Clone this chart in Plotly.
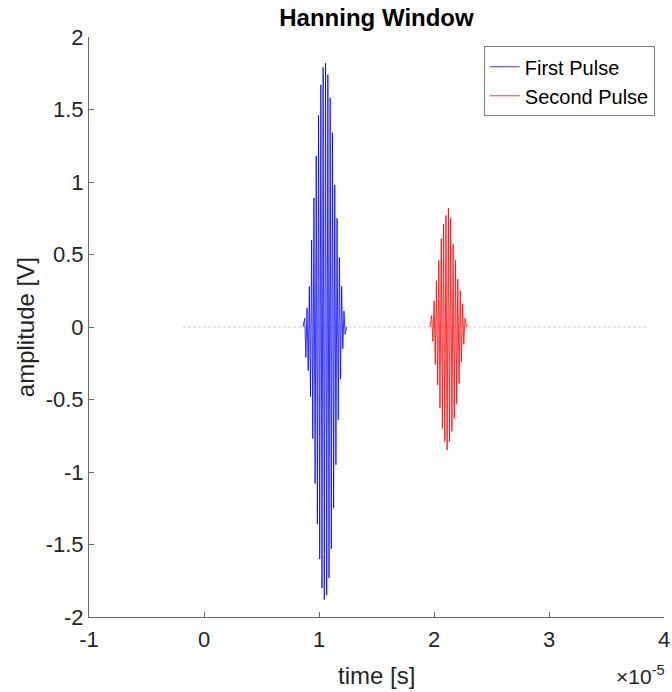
import plotly.graph_objects as go

# ---- data (time in microseconds, amplitude in volts) ----
pulse1_t_us = [8.60, 8.76, 8.86, 8.96, 9.06, 9.16, 9.26, 9.36, 9.46, 9.56, 9.66, 9.76, 9.86,
               9.96, 10.06, 10.16, 10.26, 10.36, 10.46, 10.57, 10.67, 10.77, 10.87, 10.97,
               11.07, 11.17, 11.27, 11.37, 11.47, 11.57, 11.67, 11.77, 11.87, 11.97, 12.07,
               12.17, 12.27, 12.40]
pulse1_v = [0.0, 0.06, -0.21, 0.13, -0.30, 0.28, -0.48, 0.60, -0.77, 0.89, -1.08, 1.18, -1.36,
            1.46, -1.60, 1.67, -1.80, 1.79, -1.88, 1.82, -1.85, 1.74, -1.73, 1.58,
            -1.53, 1.34, -1.25, 0.98, -0.95, 0.75, -0.64, 0.48, -0.36, 0.28, -0.15,
            0.11, -0.05, 0.0]

pulse2_t_us = [19.65, 19.80, 19.90, 20.01, 20.11, 20.21, 20.32, 20.42, 20.52, 20.63, 20.73,
               20.83, 20.94, 21.04, 21.14, 21.25, 21.35, 21.45, 21.56, 21.66, 21.76, 21.87,
               21.97, 22.07, 22.18, 22.28, 22.38, 22.49, 22.59, 22.69, 22.85]
pulse2_v = [0.0, 0.08, -0.10, 0.18, -0.26, 0.32, -0.40, 0.46, -0.56, 0.61, -0.70,
            0.71, -0.79, 0.77, -0.85, 0.82, -0.79, 0.75, -0.72, 0.57, -0.63, 0.46,
            -0.53, 0.33, -0.39, 0.25, -0.24, 0.16, -0.12, 0.06, 0.0]

baseline_t_us = [-1.83, 38.43]
baseline_v = [0.0, 0.0]

x_tick_vals = [-1e-5, 0, 1e-5, 2e-5, 3e-5, 4e-5]
x_tick_text = ["-1", "0", "1", "2", "3", "4"]
y_tick_vals = [-2, -1.5, -1, -0.5, 0, 0.5, 1, 1.5, 2]
y_tick_text = ["-2", "-1.5", "-1", "-0.5", "0", "0.5", "1", "1.5", "2"]

US = 1e-6
FONT = "Liberation Sans, Arial, Helvetica, sans-serif"
TXT = "#262626"
AX = "#6a6a6a"

fig = go.Figure()
fig.add_trace(go.Scatter(x=[t * US for t in baseline_t_us], y=baseline_v, mode="lines",
                         line=dict(color="rgba(235,140,165,0.55)", width=1, dash="3px,2px"),
                         showlegend=False, hoverinfo="skip"))
fig.add_trace(go.Scatter(x=[t * US for t in pulse1_t_us], y=pulse1_v, mode="lines",
                         name="First Pulse", line=dict(color="#0000ff", width=0.8)))
fig.add_trace(go.Scatter(x=[t * US for t in pulse2_t_us], y=pulse2_v, mode="lines",
                         name="Second Pulse", line=dict(color="#ff0000", width=0.8)))

fig.update_layout(
    width=672, height=692,
    margin=dict(l=89, r=8, t=37, b=75, autoexpand=False),
    paper_bgcolor="white", plot_bgcolor="white",
    font=dict(family=FONT, color=TXT, size=22),
    title=dict(text="<b>Hanning Window</b>", x=0.5, xref="paper", xanchor="center",
               y=1 - 18 / 692, yref="container", yanchor="middle",
               font=dict(family=FONT, size=24, color="#000000")),
    legend=dict(x=0.984, y=0.984, xanchor="right", yanchor="top",
                bgcolor="white", bordercolor="#808080", borderwidth=1,
                font=dict(family=FONT, size=20, color="#000000")),
    xaxis=dict(range=[-1e-5, 4e-5], tickvals=x_tick_vals, ticktext=x_tick_text,
               automargin=False, ticklabelstandoff=3,
               showgrid=False, zeroline=False, showline=True, linecolor=AX, linewidth=1,
               ticks="inside", ticklen=5, tickcolor=AX, tickfont=dict(size=22, color=TXT)),
    yaxis=dict(range=[-2, 2], tickvals=y_tick_vals, ticktext=y_tick_text,
               automargin=False,
               showgrid=False, zeroline=False, showline=True, linecolor=AX, linewidth=1,
               ticks="inside", ticklen=5, tickcolor=AX, tickfont=dict(size=22, color=TXT)),
    annotations=[
        dict(text="time [s]", xref="paper", yref="paper", x=0.5, y=-0.1005,
             xanchor="center", yanchor="middle", showarrow=False,
             font=dict(family=FONT, size=24, color=TXT)),
        dict(text="amplitude [V]", xref="paper", yref="paper", x=-0.111, y=0.5,
             xanchor="center", yanchor="middle", textangle=-90, showarrow=False,
             font=dict(family=FONT, size=24, color=TXT)),
        dict(text="×10<sup>-5</sup>", xref="paper", yref="paper", x=1.006, y=-0.1005,
             xanchor="right", yanchor="middle", showarrow=False,
             font=dict(family=FONT, size=21, color=TXT)),
    ],
)

fig.write_html("out.html",
               config={"displayModeBar": False},
               post_script="document.body.style.margin='0';"
                           "document.documentElement.style.overflow='hidden';")
